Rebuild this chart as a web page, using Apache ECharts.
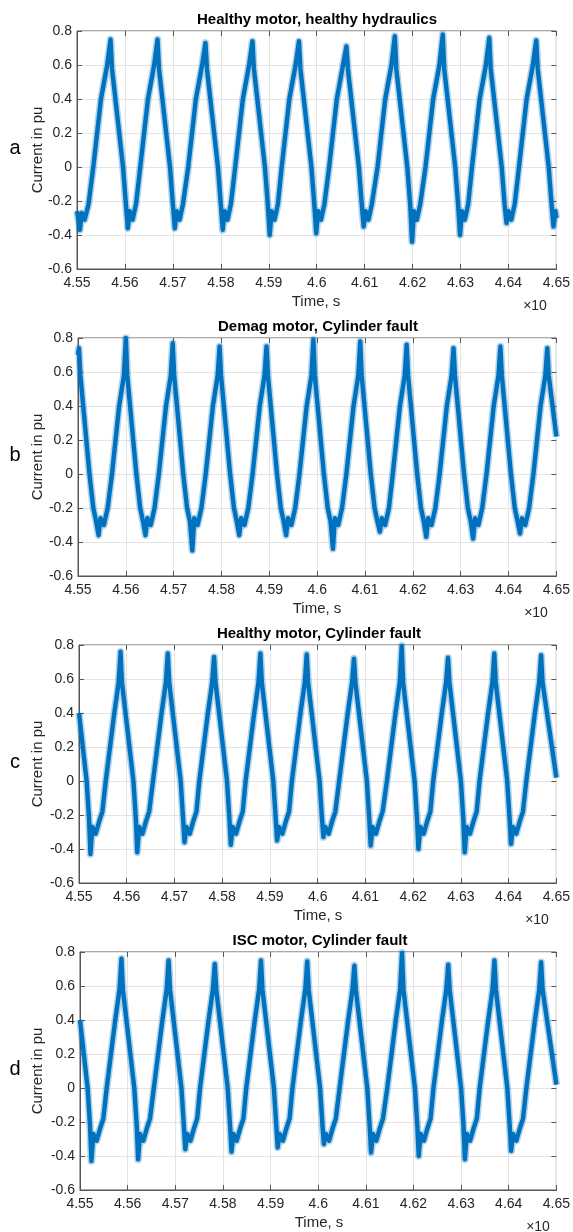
<!DOCTYPE html>
<html>
<head>
<meta charset="utf-8">
<script src="https://cdn.jsdelivr.net/npm/echarts@6/dist/echarts.min.js"></script>
<style>
html, body { margin: 0; background: #fff; }
#chart { width: 573px; height: 1232px; }
</style>
</head>
<body>
<div id="chart"></div>
<script>
// axis ticks
let timeTicks = [4.55, 4.56, 4.57, 4.58, 4.59, 4.6, 4.61, 4.62, 4.63, 4.64, 4.65];
let currentTicks = [-0.6, -0.4, -0.2, 0, 0.2, 0.4, 0.6, 0.8];

// a: healthy motor, healthy hydraulics (centre of the noisy band)
let timeA = [4.5500, 4.5503, 4.5506, 4.5510, 4.5516, 4.5524,
	4.5534, 4.5550, 4.5563, 4.5570, 4.5573, 4.5596, 4.5602, 4.5606, 4.5610, 4.5616, 4.5623,
	4.5632, 4.5648, 4.5661, 4.5668, 4.5671, 4.5694, 4.5700, 4.5704, 4.5708, 4.5714, 4.5721,
	4.5732, 4.5748, 4.5761, 4.5768, 4.5771, 4.5794, 4.5800, 4.5804, 4.5808, 4.5814, 4.5821,
	4.5830, 4.5846, 4.5859, 4.5866, 4.5869, 4.5892, 4.5898, 4.5902, 4.5906, 4.5912, 4.5919,
	4.5927, 4.5943, 4.5956, 4.5963, 4.5966, 4.5989, 4.5995, 4.5999, 4.6003, 4.6009, 4.6016,
	4.6026, 4.6042, 4.6055, 4.6062, 4.6065, 4.6088, 4.6094, 4.6098, 4.6102, 4.6108, 4.6115,
	4.6127, 4.6143, 4.6156, 4.6163, 4.6166, 4.6189, 4.6195, 4.6199, 4.6203, 4.6209, 4.6216,
	4.6227, 4.6243, 4.6256, 4.6263, 4.6266, 4.6289, 4.6295, 4.6299, 4.6303, 4.6309, 4.6316,
	4.6324, 4.6340, 4.6353, 4.6360, 4.6363, 4.6386, 4.6392, 4.6396, 4.6400, 4.6406, 4.6413,
	4.6422, 4.6438, 4.6451, 4.6458, 4.6461, 4.6484, 4.6490, 4.6494, 4.6498, 4.6500];
let currentA = [-0.26, -0.31, -0.37, -0.27, -0.31, -0.22,
	0.00, 0.40, 0.60, 0.75, 0.58, 0.00, -0.22, -0.36, -0.26, -0.31, -0.22,
	0.00, 0.40, 0.60, 0.75, 0.58, 0.00, -0.22, -0.36, -0.26, -0.31, -0.22,
	0.00, 0.40, 0.60, 0.73, 0.58, 0.00, -0.22, -0.37, -0.26, -0.31, -0.22,
	0.00, 0.40, 0.60, 0.74, 0.58, 0.00, -0.22, -0.40, -0.26, -0.31, -0.22,
	0.00, 0.40, 0.60, 0.74, 0.58, 0.00, -0.22, -0.39, -0.26, -0.31, -0.22,
	0.00, 0.40, 0.60, 0.71, 0.58, 0.00, -0.22, -0.35, -0.26, -0.31, -0.22,
	0.00, 0.40, 0.60, 0.77, 0.58, 0.00, -0.22, -0.44, -0.26, -0.31, -0.22,
	0.00, 0.40, 0.60, 0.78, 0.58, 0.00, -0.22, -0.40, -0.26, -0.31, -0.22,
	0.00, 0.40, 0.60, 0.76, 0.58, 0.00, -0.22, -0.33, -0.26, -0.31, -0.22,
	0.00, 0.40, 0.60, 0.745, 0.58, 0.00, -0.22, -0.35, -0.26, -0.30];

// b: demag motor, cylinder fault
let timeB = [4.5500, 4.5502, 4.5505, 4.5524, 4.5532, 4.5538, 4.5543, 4.5547, 4.5554, 4.5562,
	4.5571, 4.5586, 4.5596, 4.5600, 4.5603, 4.5622, 4.5630, 4.5636, 4.5641, 4.5645, 4.5652, 4.5660,
	4.5669, 4.5684, 4.5694, 4.5698, 4.5701, 4.5720, 4.5728, 4.5734, 4.5739, 4.5743, 4.5750, 4.5758,
	4.5767, 4.5782, 4.5792, 4.5796, 4.5799, 4.5818, 4.5826, 4.5832, 4.5837, 4.5841, 4.5848, 4.5856,
	4.5865, 4.5880, 4.5890, 4.5894, 4.5897, 4.5916, 4.5924, 4.5930, 4.5935, 4.5939, 4.5946, 4.5954,
	4.5963, 4.5978, 4.5988, 4.5992, 4.5995, 4.6014, 4.6022, 4.6028, 4.6033, 4.6037, 4.6044, 4.6052,
	4.6061, 4.6076, 4.6086, 4.6090, 4.6093, 4.6112, 4.6120, 4.6126, 4.6131, 4.6135, 4.6142, 4.6150,
	4.6158, 4.6173, 4.6183, 4.6187, 4.6190, 4.6209, 4.6217, 4.6223, 4.6228, 4.6232, 4.6239, 4.6247,
	4.6256, 4.6271, 4.6281, 4.6285, 4.6288, 4.6307, 4.6315, 4.6321, 4.6326, 4.6330, 4.6337, 4.6345,
	4.6354, 4.6369, 4.6379, 4.6383, 4.6386, 4.6405, 4.6413, 4.6419, 4.6424, 4.6428, 4.6435, 4.6443,
	4.6452, 4.6467, 4.6477, 4.6481, 4.6484, 4.6500];
let currentB = [0.70, 0.74, 0.58, 0.00, -0.20, -0.28, -0.36, -0.26, -0.30, -0.20,
	0.00, 0.40, 0.58, 0.80, 0.58, 0.00, -0.20, -0.28, -0.36, -0.26, -0.30, -0.20,
	0.00, 0.40, 0.58, 0.77, 0.58, 0.00, -0.20, -0.28, -0.45, -0.26, -0.30, -0.20,
	0.00, 0.40, 0.58, 0.75, 0.58, 0.00, -0.20, -0.28, -0.36, -0.26, -0.30, -0.20,
	0.00, 0.40, 0.58, 0.75, 0.58, 0.00, -0.20, -0.28, -0.36, -0.26, -0.30, -0.20,
	0.00, 0.40, 0.58, 0.79, 0.58, 0.00, -0.20, -0.28, -0.44, -0.26, -0.30, -0.20,
	0.00, 0.40, 0.58, 0.78, 0.58, 0.00, -0.20, -0.28, -0.34, -0.26, -0.30, -0.20,
	0.00, 0.40, 0.58, 0.76, 0.58, 0.00, -0.20, -0.28, -0.37, -0.26, -0.30, -0.20,
	0.00, 0.40, 0.58, 0.74, 0.58, 0.00, -0.20, -0.28, -0.38, -0.26, -0.30, -0.20,
	0.00, 0.40, 0.58, 0.75, 0.58, 0.00, -0.20, -0.28, -0.35, -0.26, -0.30, -0.20,
	0.00, 0.40, 0.58, 0.74, 0.58, 0.22];

// c: healthy motor, cylinder fault
let timeC = [4.5500, 4.5516, 4.5521, 4.5524, 4.5528, 4.5535, 4.5542, 4.5549,
	4.5556, 4.5574, 4.5583, 4.5587, 4.5590, 4.5614, 4.5619, 4.5622, 4.5626, 4.5633, 4.5640, 4.5647,
	4.5655, 4.5673, 4.5682, 4.5686, 4.5689, 4.5713, 4.5718, 4.5721, 4.5725, 4.5732, 4.5739, 4.5746,
	4.5752, 4.5770, 4.5779, 4.5783, 4.5786, 4.5810, 4.5815, 4.5818, 4.5822, 4.5829, 4.5836, 4.5843,
	4.5849, 4.5867, 4.5876, 4.5880, 4.5883, 4.5907, 4.5912, 4.5915, 4.5919, 4.5926, 4.5933, 4.5940,
	4.5946, 4.5964, 4.5973, 4.5977, 4.5980, 4.6004, 4.6009, 4.6012, 4.6016, 4.6023, 4.6030, 4.6037,
	4.6045, 4.6063, 4.6072, 4.6076, 4.6079, 4.6103, 4.6108, 4.6111, 4.6115, 4.6122, 4.6129, 4.6136,
	4.6145, 4.6163, 4.6172, 4.6176, 4.6179, 4.6203, 4.6208, 4.6211, 4.6215, 4.6222, 4.6229, 4.6236,
	4.6242, 4.6260, 4.6269, 4.6273, 4.6276, 4.6300, 4.6305, 4.6308, 4.6312, 4.6319, 4.6326, 4.6333,
	4.6339, 4.6357, 4.6366, 4.6370, 4.6373, 4.6397, 4.6402, 4.6405, 4.6409, 4.6416, 4.6423, 4.6430,
	4.6437, 4.6455, 4.6464, 4.6468, 4.6471, 4.6500];
let currentC = [0.40, 0.00, -0.22, -0.43, -0.27, -0.31, -0.24, -0.18,
	0.00, 0.40, 0.58, 0.76, 0.58, 0.00, -0.22, -0.42, -0.27, -0.31, -0.24, -0.18,
	0.00, 0.40, 0.58, 0.75, 0.58, 0.00, -0.22, -0.36, -0.27, -0.31, -0.24, -0.18,
	0.00, 0.40, 0.58, 0.73, 0.58, 0.00, -0.22, -0.375, -0.27, -0.31, -0.24, -0.18,
	0.00, 0.40, 0.58, 0.75, 0.58, 0.00, -0.22, -0.35, -0.27, -0.31, -0.24, -0.18,
	0.00, 0.40, 0.58, 0.745, 0.58, 0.00, -0.22, -0.33, -0.27, -0.31, -0.24, -0.18,
	0.00, 0.40, 0.58, 0.72, 0.58, 0.00, -0.22, -0.38, -0.27, -0.31, -0.24, -0.18,
	0.00, 0.40, 0.58, 0.795, 0.58, 0.00, -0.22, -0.40, -0.27, -0.31, -0.24, -0.18,
	0.00, 0.40, 0.58, 0.725, 0.58, 0.00, -0.22, -0.42, -0.27, -0.31, -0.24, -0.18,
	0.00, 0.40, 0.58, 0.75, 0.58, 0.00, -0.22, -0.37, -0.27, -0.31, -0.24, -0.18,
	0.00, 0.40, 0.58, 0.74, 0.58, 0.02];

// d: ISC motor, cylinder fault (trace looks the same as c in the picture)
let timeD = timeC.slice();
let currentD = currentC.slice();

let panels = [
	{ title: 'Healthy motor, healthy hydraulics', letter: 'a', time: timeA, current: currentA, left: 77, top: 31 },
	{ title: 'Demag motor, Cylinder fault', letter: 'b', time: timeB, current: currentB, left: 78, top: 338 },
	{ title: 'Healthy motor, Cylinder fault', letter: 'c', time: timeC, current: currentC, left: 79, top: 645 },
	{ title: 'ISC motor, Cylinder fault', letter: 'd', time: timeD, current: currentD, left: 80, top: 952 },
];
let W = 480, H = 238;
let ink = '#262626';
let edge = '#555';
let font = 'Liberation Sans, Arial, Helvetica, sans-serif';

let chart = echarts.init(document.getElementById('chart'));
let grid = [], xAxis = [], yAxis = [], series = [], graphic = [];

panels.forEach(function (p, i) {
	grid.push({
		left: p.left, top: p.top, width: W, height: H,
		show: true, borderColor: edge, borderWidth: 1, backgroundColor: '#fff'
	});
	// bottom + top time axes
	xAxis.push({
		type: 'value', gridIndex: i, position: 'bottom',
		min: timeTicks[0], max: timeTicks[timeTicks.length - 1], interval: 0.01,
		axisLine: { show: true, onZero: false, lineStyle: { color: edge, width: 1 } },
		axisTick: { show: true, inside: true, length: 5, lineStyle: { color: edge } },
		axisLabel: {
			color: ink, fontSize: 14, fontFamily: font, margin: 7,
			formatter: function (v) { return String(+v.toFixed(2)); }
		},
		splitLine: { show: true, lineStyle: { color: '#e4e4e4', width: 1 } }
	});
	xAxis.push({
		type: 'value', gridIndex: i, position: 'top',
		min: timeTicks[0], max: timeTicks[timeTicks.length - 1], interval: 0.01,
		axisLine: { show: false, onZero: false },
		axisTick: { show: true, inside: true, length: 5, lineStyle: { color: edge } },
		axisLabel: { show: false }, splitLine: { show: false }
	});
	yAxis.push({
		type: 'value', gridIndex: i, position: 'left',
		min: currentTicks[0], max: currentTicks[currentTicks.length - 1], interval: 0.2,
		axisLine: { show: true, onZero: false, lineStyle: { color: edge, width: 1 } },
		axisTick: { show: true, inside: true, length: 5, lineStyle: { color: edge } },
		axisLabel: {
			color: ink, fontSize: 14, fontFamily: font, margin: 5,
			formatter: function (v) { return String(+v.toFixed(1)); }
		},
		splitLine: { show: true, lineStyle: { color: '#e4e4e4', width: 1 } }
	});
	yAxis.push({
		type: 'value', gridIndex: i, position: 'right',
		min: currentTicks[0], max: currentTicks[currentTicks.length - 1], interval: 0.2,
		axisLine: { show: false, onZero: false },
		axisTick: { show: true, inside: true, length: 5, lineStyle: { color: edge } },
		axisLabel: { show: false }, splitLine: { show: false }
	});

	let pts = p.time.map(function (t, k) { return [t, p.current[k]]; });
	// soft fringe of the noise band
	series.push({
		type: 'line', xAxisIndex: i * 2, yAxisIndex: i * 2, data: pts,
		showSymbol: false, clip: true, silent: true,
		lineStyle: { color: '#0072BD', width: 7.5, opacity: 0.3, join: 'round' }
	});
	// dense core
	series.push({
		type: 'line', xAxisIndex: i * 2, yAxisIndex: i * 2, data: pts,
		showSymbol: false, clip: true, silent: true,
		lineStyle: { color: '#0072BD', width: 4.4, join: 'round' }
	});

	let cx = p.left + W / 2;
	graphic.push({
		type: 'text', x: cx, y: p.top - 11,
		style: { text: p.title, font: 'bold 15px ' + font, fill: '#000', align: 'center', verticalAlign: 'middle' }
	});
	graphic.push({
		type: 'text', x: 38, y: p.top + H / 2, rotation: Math.PI / 2,
		style: { text: 'Current in pu', font: '15px ' + font, fill: ink, align: 'center', verticalAlign: 'middle' }
	});
	graphic.push({
		type: 'text', x: 15, y: p.top + 117,
		style: { text: p.letter, font: '20px ' + font, fill: '#000', align: 'center', verticalAlign: 'middle' }
	});
	graphic.push({
		type: 'text', x: cx - 1, y: p.top + H + 33,
		style: { text: 'Time, s', font: '15px ' + font, fill: ink, align: 'center', verticalAlign: 'middle' }
	});
	graphic.push({
		type: 'text', x: p.left + 458, y: p.top + H + 37,
		style: { text: '×10', font: '14px ' + font, fill: ink, align: 'center', verticalAlign: 'middle' }
	});
});

let option = {
	animation: false,
	backgroundColor: '#fff',
	grid: grid,
	xAxis: xAxis,
	yAxis: yAxis,
	series: series,
	graphic: graphic
};
chart.setOption(option, true);
</script>
</body>
</html>
